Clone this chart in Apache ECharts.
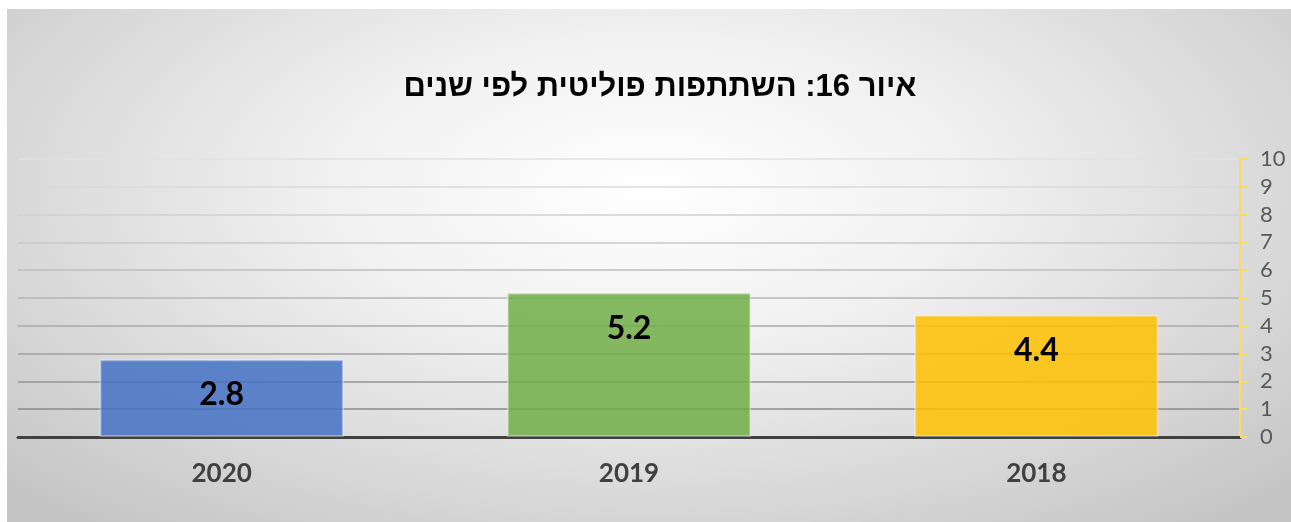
<!DOCTYPE html>
<html>
<head>
<meta charset="utf-8">
<script src="https://cdn.jsdelivr.net/npm/echarts@6/dist/echarts.min.js"></script>
<style>
	html, body { margin: 0; padding: 0; background: #fff; }
	#main {
		position: absolute;
		left: 7px;
		top: 9px;
		width: 1284px;
		height: 513px;
		background: radial-gradient(ellipse 70% 85% at 50% 35%, #ffffff 0%, #f1f1f1 35%, #d6d6d6 75%, #c4c4c4 100%);
	}
</style>
</head>
<body>
<div id="main"></div>
<script>
	// data
	var title = 'איור 16: השתתפות פוליטית לפי שנים';
	var years = ['2020', '2019', '2018'];
	var values = [2.8, 5.2, 4.4];
	var barColors = ['rgba(68,114,196,0.85)', 'rgba(112,173,71,0.85)', 'rgba(255,192,0,0.85)'];
	var yTicks = [0, 1, 2, 3, 4, 5, 6, 7, 8, 9, 10];
	// gridlines fade from dark (bottom) to light (top)
	var gridColors = ['#7f7f7f', '#8a8a8a', '#959595', '#a0a0a0', '#aaaaaa', '#b4b4b4', '#bebebe', '#c8c8c8', '#d1d1d1', '#dadada', '#e2e2e2'];

	var myChart = echarts.init(document.getElementById('main'));
	var option = {
		animation: false,
		title: {
			text: title,
			left: 648,
			top: 58,
			textAlign: 'center',
			textStyle: {
				fontFamily: 'Liberation Sans, DejaVu Sans, sans-serif',
				fontSize: 31,
				fontWeight: 'bold',
				color: '#000'
			}
		},
		grid: {
			left: 11,
			right: 51,
			top: 150,
			bottom: 85
		},
		xAxis: {
			type: 'category',
			data: years,
			axisLine: { lineStyle: { color: '#404040', width: 3 } },
			axisTick: { show: false },
			axisLabel: {
				margin: 24,
				fontFamily: 'Lato, Open Sans, sans-serif',
				fontSize: 26,
				fontWeight: 'bold',
				color: '#404040'
			}
		},
		yAxis: {
			type: 'value',
			position: 'right',
			min: yTicks[0],
			max: yTicks[yTicks.length - 1],
			interval: 1,
			axisLine: { show: true, lineStyle: { color: '#ffd966', width: 2 } },
			axisTick: { show: true, length: 7, lineStyle: { color: '#ffd966', width: 2 } },
			axisLabel: {
				margin: 20,
				fontFamily: 'Lato, Open Sans, sans-serif',
				fontSize: 22,
				color: '#595959'
			},
			splitLine: { lineStyle: { color: gridColors, width: 1.5 } }
		},
		series: [{
			type: 'bar',
			barWidth: '60%',
			data: values.map(function (v, i) {
				return { value: v, itemStyle: { color: barColors[i] } };
			}),
			itemStyle: { borderColor: 'rgba(255,255,255,0.35)', borderWidth: 2 },
			label: {
				show: true,
				position: 'insideTop',
				distance: 20,
				fontFamily: 'Lato, Open Sans, sans-serif',
				fontSize: 32,
				fontWeight: 'bold',
				color: '#000'
			}
		}]
	};
	myChart.setOption(option);
</script>
</body>
</html>
